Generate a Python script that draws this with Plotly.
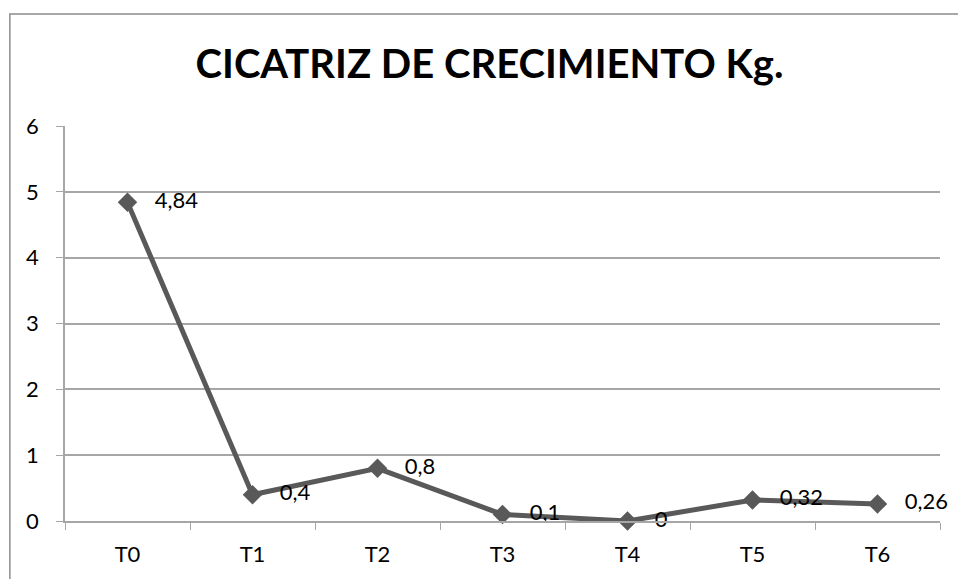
import plotly.graph_objects as go

categories = ["T0", "T1", "T2", "T3", "T4", "T5", "T6"]
values = [4.84, 0.4, 0.8, 0.1, 0, 0.32, 0.26]
labels = ["4,84", "0,4", "0,8", "0,1", "0", "0,32", "0,26"]

FONT = "Lato, Calibri, Arial, sans-serif"
GRID = "#a6a6a6"
LINE = "#595959"

fig = go.Figure()
fig.add_trace(
    go.Scatter(
        x=categories,
        y=values,
        mode="lines+markers+text",
        text=["   " + t for t in labels],
        textposition="middle right",
        textfont=dict(size=22, color="black", family=FONT),
        line=dict(color=LINE, width=5),
        marker=dict(symbol="diamond", size=15, color=LINE),
        cliponaxis=False,
        showlegend=False,
    )
)

fig.update_layout(
    width=958,
    height=579,
    margin=dict(l=65, r=18, t=126, b=58),
    paper_bgcolor="white",
    plot_bgcolor="white",
    font=dict(family=FONT, size=22, color="black"),
    title=dict(
        text="<b>CICATRIZ DE CRECIMIENTO Kg.</b>",
        xref="container",
        x=0.511,
        xanchor="center",
        yref="container",
        y=0.889,
        yanchor="middle",
        font=dict(size=40, family=FONT, color="black"),
    ),
    xaxis=dict(
        type="category",
        range=[-0.5, 6.5],
        showgrid=False,
        showline=True,
        linecolor=GRID,
        linewidth=1.5,
        ticks="outside",
        tickson="boundaries",
        ticklen=7,
        tickcolor=GRID,
        ticklabelstandoff=13,
        tickfont=dict(size=22),
    ),
    yaxis=dict(
        range=[0, 6],
        dtick=1,
        showgrid=True,
        gridcolor=GRID,
        gridwidth=1.5,
        zeroline=False,
        showline=True,
        linecolor=GRID,
        linewidth=1.5,
        ticks="outside",
        ticklen=7,
        tickcolor=GRID,
        ticklabelstandoff=13,
        tickfont=dict(size=22),
    ),
    shapes=[
        dict(
            type="rect",
            xref="paper",
            yref="paper",
            x0=-0.063,
            x1=1.05,
            y0=-0.2,
            y1=1.2835,
            line=dict(color="#8c8c8c", width=1.5),
            fillcolor="rgba(0,0,0,0)",
            layer="below",
        )
    ],
)

# page body has a default margin; drop it so the chart sits at the window corner
fig.write_html(
    "out.html",
    config={"displayModeBar": False},
    post_script="document.body.style.margin='0';",
)
